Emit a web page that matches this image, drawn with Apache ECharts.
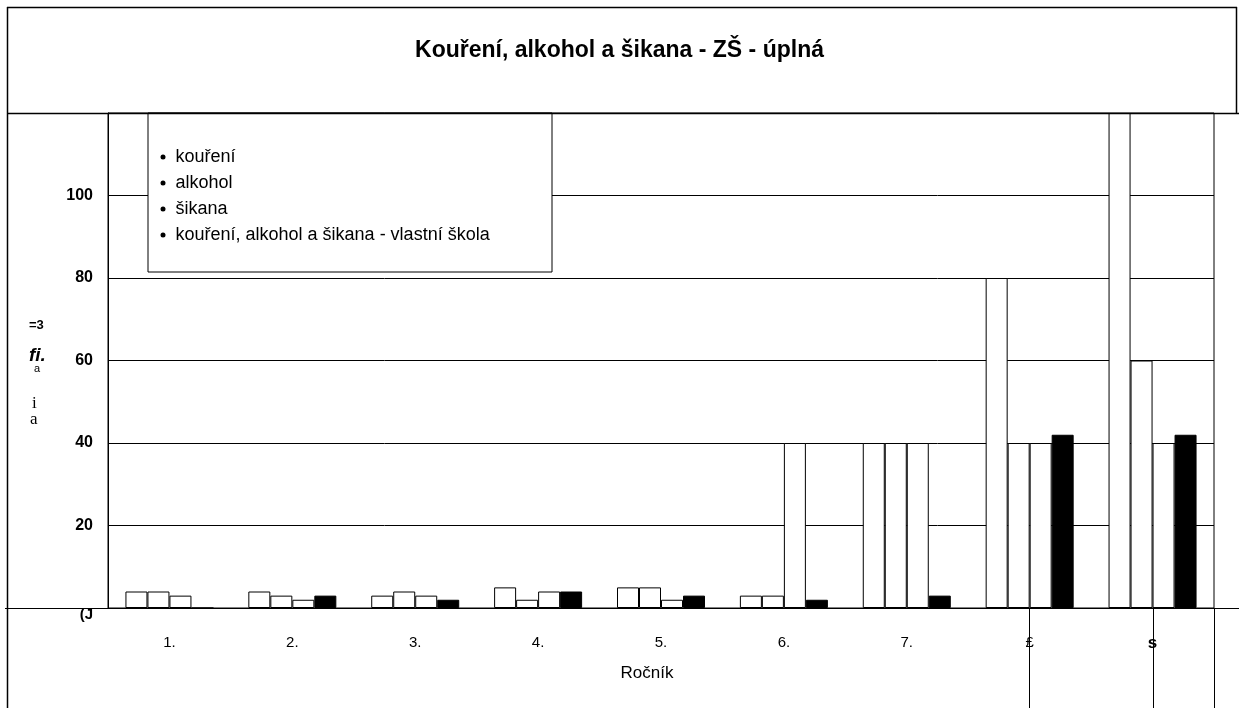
<!DOCTYPE html>
<html>
<head>
<meta charset="utf-8">
<script src="https://cdn.jsdelivr.net/npm/echarts@6/dist/echarts.min.js"></script>
<style>
html,body{margin:0;padding:0;background:#fff;}
#chart{width:1239px;height:708px;}
</style>
</head>
<body>
<div id="chart"></div>
<script>
// ---- data ----
const categories = ['1.', '2.', '3.', '4.', '5.', '6.', '7.', '£', 's'];
const seriesNames = ['kouření', 'alkohol', 'šikana', 'kouření, alkohol a šikana - vlastní škola'];
const kouzeni = [4, 4, 3, 5, 5, 3, 40, 80, 120];
const alkohol = [4, 3, 4, 2, 5, 3, 40, 40, 60];
const sikana = [3, 2, 3, 4, 2, 40, 40, 40, 40];
const vlastniSkola = [0, 3, 2, 4, 3, 2, 3, 42, 42];
const yTickLabels = {0: '(J', 20: '20', 40: '40', 60: '60', 80: '80', 100: '100', 120: ''};
const titleText = 'Kouření, alkohol a šikana - ZŠ - úplná';
const xName = 'Ročník';
const yNameParts = ['=3', 'fi.', 'a', 'i', 'a'];

const FONT = 'Liberation Sans, Arial, sans-serif';
const LEG_FONT_SIZE = 18;

// measure longest legend text to size the legend box like the reference
const mctx = document.createElement('canvas').getContext('2d');
mctx.font = LEG_FONT_SIZE + 'px ' + FONT;
let maxW = 0;
seriesNames.forEach(n => { maxW = Math.max(maxW, mctx.measureText(n).width); });
const legLeftPad = 12.5, legIcon = 5, legTextGap = 5, legTextPadL = 5;
const legBoxWidth = 404;
const legRightPad = Math.max(6, legBoxWidth - legLeftPad - legIcon - legTextGap - legTextPadL - maxW);

const chart = echarts.init(document.getElementById('chart'), null, {renderer: 'canvas'});

const whiteBar = {color: '#fff', borderColor: '#000', borderWidth: 1};
const blackBar = {color: '#000', borderColor: '#000', borderWidth: 1};

const option = {
  backgroundColor: '#fff',
  animation: false,
  title: {
    text: titleText,
    left: 'center',
    top: 34,
    textStyle: {fontFamily: FONT, fontWeight: 'bold', fontSize: 23, color: '#000'}
  },
  legend: {
    orient: 'vertical',
    left: 148,
    top: 113,
    backgroundColor: '#fff',
    borderColor: '#000',
    borderWidth: 1,
    borderRadius: 0,
    padding: [35, legRightPad, 28, legLeftPad],
    itemGap: 8,
    itemWidth: legIcon,
    itemHeight: legIcon,
    icon: 'circle',
    itemStyle: {color: '#000', borderWidth: 0},
    textStyle: {fontFamily: FONT, fontSize: LEG_FONT_SIZE, color: '#000', padding: [0, 0, 0, legTextPadL]},
    data: seriesNames
  },
  grid: {
    left: 108, right: 25, top: 113, bottom: 100,
    show: true, borderColor: '#000', borderWidth: 1, backgroundColor: 'transparent'
  },
  xAxis: {
    type: 'category',
    data: categories,
    name: xName,
    nameLocation: 'middle',
    nameGap: 57,
    nameTextStyle: {fontFamily: FONT, fontSize: 17, color: '#000', padding: [0, 28, 0, 0]},
    axisLine: {show: true, lineStyle: {color: '#000', width: 1}},
    axisTick: {show: false},
    axisLabel: {
      margin: 27,
      fontFamily: FONT, fontSize: 15, color: '#000',
      formatter: v => v === 's' ? '{b|s}' : v,
      rich: {b: {fontFamily: FONT, fontSize: 17, fontWeight: 'bold', color: '#000'}}
    },
    splitLine: {show: false}
  },
  yAxis: {
    type: 'value',
    min: 0, max: 120, interval: 20,
    axisLine: {show: true, lineStyle: {color: '#000', width: 1}},
    axisTick: {show: false},
    axisLabel: {
      margin: 15,
      fontFamily: FONT, fontSize: 16, fontWeight: 'bold', color: '#000',
      formatter: v => {
        const t = yTickLabels[v] !== undefined ? yTickLabels[v] : '';
        return v === 0 ? '{z|' + t + '}' : t;
      },
      rich: {z: {fontFamily: FONT, fontSize: 15, fontWeight: 'bold', color: '#000', padding: [14, 0, 0, 0]}}
    },
    splitLine: {show: true, lineStyle: {color: '#000', width: 1}}
  },
  series: [
    {name: seriesNames[0], type: 'bar', data: kouzeni, barWidth: 22, barGap: '0%', itemStyle: whiteBar},
    {name: seriesNames[1], type: 'bar', data: alkohol, barWidth: 22, barGap: '0%', itemStyle: whiteBar},
    {name: seriesNames[2], type: 'bar', data: sikana, barWidth: 22, barGap: '0%', itemStyle: whiteBar},
    {name: seriesNames[3], type: 'bar', data: vlastniSkola, barWidth: 22, barGap: '0%', itemStyle: blackBar}
  ],
  graphic: [
    // outer frame: left side, top, title-area right side
    {type: 'line', z: 100, silent: true, shape: {x1: 7.5, y1: 7, x2: 7.5, y2: 708}, style: {stroke: '#000', lineWidth: 1.5}},
    {type: 'line', z: 100, silent: true, shape: {x1: 7, y1: 7.5, x2: 1237, y2: 7.5}, style: {stroke: '#000', lineWidth: 1.5}},
    {type: 'line', z: 100, silent: true, shape: {x1: 1236.5, y1: 7, x2: 1236.5, y2: 113}, style: {stroke: '#000', lineWidth: 1.5}},
    {type: 'line', z: 100, silent: true, shape: {x1: 7, y1: 113.5, x2: 1239, y2: 113.5}, style: {stroke: '#000', lineWidth: 1.5}},
    {type: 'line', z: 100, silent: true, shape: {x1: 5, y1: 608.5, x2: 1239, y2: 608.5}, style: {stroke: '#000', lineWidth: 1}},
    {type: 'line', z: 100, silent: true, shape: {x1: 1029.5, y1: 608, x2: 1029.5, y2: 708}, style: {stroke: '#000', lineWidth: 1}},
    {type: 'line', z: 100, silent: true, shape: {x1: 1153.5, y1: 608, x2: 1153.5, y2: 708}, style: {stroke: '#000', lineWidth: 1}},
    {type: 'line', z: 100, silent: true, shape: {x1: 1214.5, y1: 608, x2: 1214.5, y2: 708}, style: {stroke: '#000', lineWidth: 1}},
    {type: 'text', left: 29, top: 319, style: {text: yNameParts[0], font: 'bold 13px ' + FONT, fill: '#000'}},
    {type: 'text', left: 29, top: 346, style: {text: yNameParts[1], font: 'italic bold 19px ' + FONT, fill: '#000'}},
    {type: 'text', left: 34, top: 363, style: {text: yNameParts[2], font: '11px ' + FONT, fill: '#000'}},
    {type: 'text', left: 32, top: 395, style: {text: yNameParts[3], font: '17px "Liberation Serif", serif', fill: '#000'}},
    {type: 'text', left: 30, top: 411, style: {text: yNameParts[4], font: '17px "Liberation Serif", serif', fill: '#000'}}
  ]
};
chart.setOption(option);
</script>
</body>
</html>
